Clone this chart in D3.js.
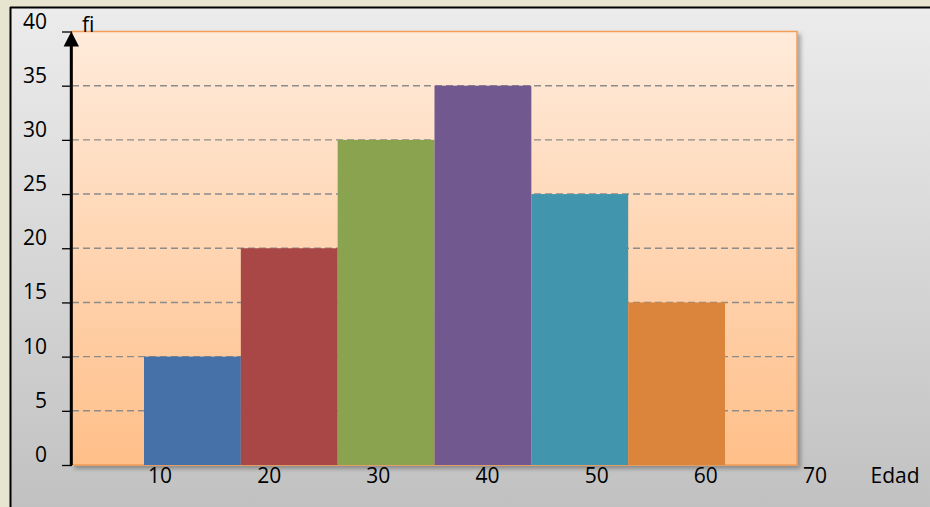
<!DOCTYPE html>
<html>
<head>
<meta charset="utf-8">
<script src="https://cdn.jsdelivr.net/npm/d3@7"></script>
<style>
  html, body { margin: 0; padding: 0; background: #e7e5d0; }
  svg { display: block; }
  text { font-family: "Open Sans", "Liberation Sans", sans-serif; fill: #000; }
</style>
</head>
<body>
<svg id="chart" width="930" height="507"></svg>
<script>
// Age classes (lower bound of each interval) and absolute frequencies
const classStarts = [10, 20, 30, 40, 50, 60];
const classWidth = 10;
const frequencies = [10, 20, 30, 35, 25, 15];
const barColors = ["#4570a8", "#a84745", "#89a34f", "#71598f", "#4196ae", "#db843c"];
const yTicks = [0, 5, 10, 15, 20, 25, 30, 35, 40];
const xTickLabels = [10, 20, 30, 40, 50, 60, 70];
const xTitle = "Edad";
const yTitle = "fi";

const svg = d3.select("#chart");
const W = 930, H = 507;
const FONT = "21px";

const defs = svg.append("defs");
const panelGrad = defs.append("linearGradient").attr("id", "panelGrad")
  .attr("x1", 0).attr("y1", 0).attr("x2", 0).attr("y2", 1);
panelGrad.append("stop").attr("offset", "0%").attr("stop-color", "#ececec");
panelGrad.append("stop").attr("offset", "100%").attr("stop-color", "#c1c1c1");

const plotGrad = defs.append("linearGradient").attr("id", "plotGrad")
  .attr("x1", 0).attr("y1", 0).attr("x2", 0).attr("y2", 1);
plotGrad.append("stop").attr("offset", "0%").attr("stop-color", "#ffebdb");
plotGrad.append("stop").attr("offset", "100%").attr("stop-color", "#ffbf89");

const shadow = defs.append("filter").attr("id", "shadow")
  .attr("x", "-5%").attr("y", "-5%").attr("width", "115%").attr("height", "115%");
shadow.append("feDropShadow").attr("dx", 3).attr("dy", 3).attr("stdDeviation", 2)
  .attr("flood-color", "#000").attr("flood-opacity", 0.3);

// Outer panel
svg.append("rect").attr("x", 11).attr("y", 8).attr("width", W - 11).attr("height", H - 8)
  .attr("fill", "url(#panelGrad)");
svg.append("line").attr("x1", 10.5).attr("x2", 10.5).attr("y1", 7).attr("y2", H)
  .attr("stroke", "#000").attr("stroke-width", 2);
svg.append("line").attr("x1", 10).attr("x2", W).attr("y1", 7.5).attr("y2", 7.5)
  .attr("stroke", "#000").attr("stroke-width", 2);

// Plot geometry
const plot = { left: 72, right: 797, top: 31.5, bottom: 465 };

const y = d3.scaleLinear().domain([0, 40]).range([plot.bottom, plot.top]);
// Bars: interval scale in age units
const x = d3.scaleLinear().domain([10, 70]).range([144, 725]);
// Category labels are placed on their own evenly spaced scale
const xLab = d3.scaleLinear().domain([10, 70]).range([160, 815]);

// Plot area background
svg.append("rect")
  .attr("x", plot.left).attr("y", plot.top)
  .attr("width", plot.right - plot.left).attr("height", plot.bottom - plot.top)
  .attr("fill", "url(#plotGrad)")
  .attr("stroke", "#f39d55").attr("stroke-width", 1.5)
  .attr("filter", "url(#shadow)");

// Dashed gridlines
svg.append("g").selectAll("line")
  .data(yTicks.filter(d => d > 0 && d < 40))
  .join("line")
  .attr("x1", plot.left).attr("x2", plot.right)
  .attr("y1", d => y(d)).attr("y2", d => y(d))
  .attr("stroke", "#8c8c8c").attr("stroke-width", 1.4)
  .attr("stroke-dasharray", "7,4");

// Histogram bars
svg.append("g").selectAll("rect")
  .data(classStarts.map((s, i) => ({ s, f: frequencies[i], c: barColors[i] })))
  .join("rect")
  .attr("x", d => x(d.s))
  .attr("width", d => x(d.s + classWidth) - x(d.s))
  .attr("y", d => y(d.f))
  .attr("height", d => y(0) - y(d.f))
  .attr("fill", d => d.c);

// Y axis with ticks
const yAxis = d3.axisLeft(y).tickValues(yTicks).tickSize(10).tickFormat("");
const gy = svg.append("g").attr("transform", `translate(${plot.left},0)`).call(yAxis);
gy.select(".domain").remove();
gy.selectAll(".tick line").attr("stroke", "#000").attr("stroke-width", 1.3);

// Y tick labels, sitting just above each tick
svg.append("g").selectAll("text")
  .data(yTicks)
  .join("text")
  .attr("x", 47).attr("y", d => y(d) - 3)
  .attr("text-anchor", "end")
  .style("font-size", FONT)
  .text(d => d);

// Vertical axis arrow
svg.append("line")
  .attr("x1", 71.3).attr("x2", 71.3)
  .attr("y1", y(0)).attr("y2", y(40) + 12)
  .attr("stroke", "#000").attr("stroke-width", 3);
svg.append("path")
  .attr("d", `M71.3,${y(40)} L79,${y(40) + 15} L63.6,${y(40) + 15} Z`)
  .attr("fill", "#000");

// X tick labels
svg.append("g").selectAll("text")
  .data(xTickLabels)
  .join("text")
  .attr("x", d => xLab(d)).attr("y", 483)
  .attr("text-anchor", "middle")
  .style("font-size", FONT)
  .text(d => d);

svg.append("text").attr("x", 895).attr("y", 483).attr("text-anchor", "middle")
  .style("font-size", FONT).text(xTitle);
svg.append("text").attr("x", 82).attr("y", 32).style("font-size", FONT).text(yTitle);
</script>
</body>
</html>
